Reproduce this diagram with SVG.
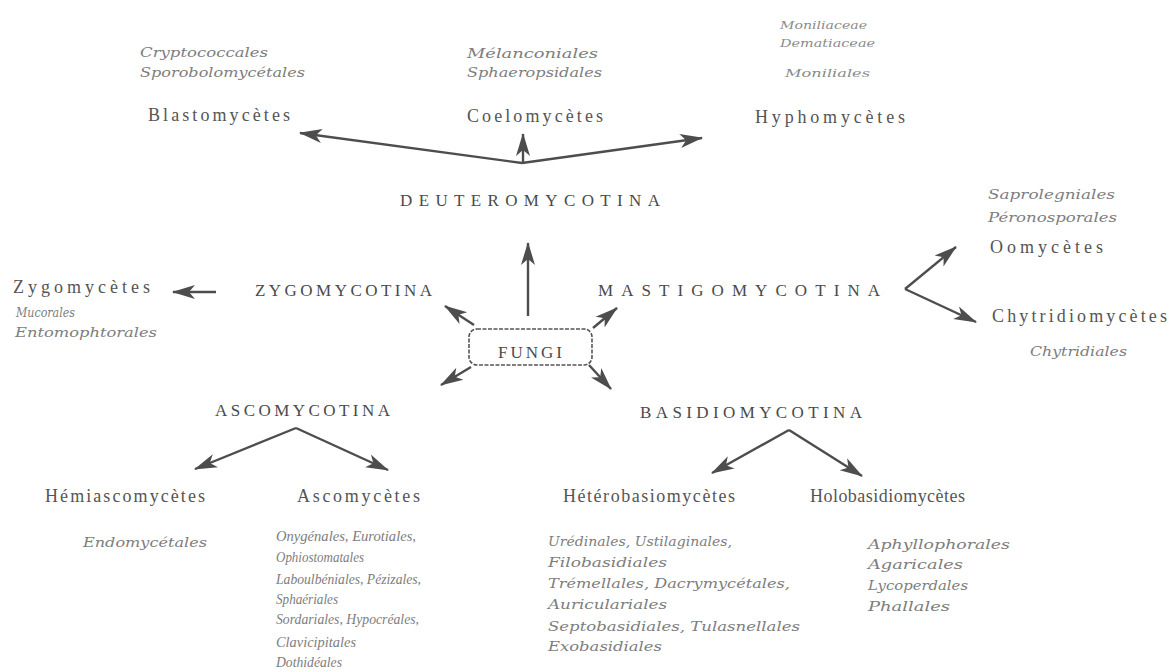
<svg xmlns="http://www.w3.org/2000/svg" width="1175" height="672" viewBox="0 0 1175 672">
<style>
text{font-family:"Liberation Serif","DejaVu Serif",serif;}
.h{font-size:18px;fill:#555;}
.c{font-size:17px;fill:#4a4a4a;}
.i{font-size:13px;font-style:italic;fill:#7d7d7d;font-family:"DejaVu Serif","Liberation Serif",serif;}
.a{font-size:14px;font-style:italic;fill:#7d7d7d;}
.s{font-size:11px;font-style:italic;fill:#8a8a8a;font-family:"DejaVu Serif","Liberation Serif",serif;}
.ln{stroke:#4d4d4d;stroke-width:2.4;fill:none;marker-end:url(#ah);}
</style>
<defs>
<marker id="ah" markerUnits="userSpaceOnUse" markerWidth="26" markerHeight="16" refX="22" refY="8" orient="auto">
<path d="M0,1 L23,8 L0,15 L6,8 z" fill="#4d4d4d"/>
</marker>
</defs>
<rect width="1175" height="672" fill="#ffffff"/>
<g id="connectors">
<line class="ln" x1="522" y1="163" x2="300" y2="133"/>
<line class="ln" x1="522" y1="163" x2="702" y2="138"/>
<line class="ln" x1="523" y1="163" x2="523" y2="134"/>
<line class="ln" x1="528" y1="316" x2="528" y2="243"/>
<line class="ln" x1="474" y1="325" x2="445" y2="306"/>
<line class="ln" x1="593" y1="328" x2="617" y2="308"/>
<line class="ln" x1="471" y1="367" x2="441" y2="385"/>
<line class="ln" x1="589" y1="365" x2="611" y2="389"/>
<line class="ln" x1="216" y1="292" x2="173" y2="292"/>
<line class="ln" x1="905" y1="289" x2="956" y2="247"/>
<line class="ln" x1="905" y1="289" x2="976" y2="322"/>
<line class="ln" x1="296" y1="428" x2="195" y2="469"/>
<line class="ln" x1="296" y1="428" x2="388" y2="470"/>
<line class="ln" x1="789" y1="430" x2="712" y2="473"/>
<line class="ln" x1="789" y1="430" x2="862" y2="476"/>
</g>
<g id="fungi">
<rect x="469" y="329" width="123" height="36" rx="8" fill="none" stroke="#555" stroke-width="1.6" stroke-dasharray="4,1.5"/>
<text class="c" x="530" y="358" text-anchor="middle" textLength="64" lengthAdjust="spacing" font-size="16">FUNGI</text>
</g>
<g id="deuteromycotina"><text class="c" x="400" y="206" textLength="260" lengthAdjust="spacing">DEUTEROMYCOTINA</text></g>
<g id="zygomycotina"><text class="c" x="255" y="296" textLength="177" lengthAdjust="spacing">ZYGOMYCOTINA</text></g>
<g id="mastigomycotina"><text class="c" x="598" y="296" textLength="282" lengthAdjust="spacing">MASTIGOMYCOTINA</text></g>
<g id="ascomycotina"><text class="c" x="215" y="416" textLength="175" lengthAdjust="spacing">ASCOMYCOTINA</text></g>
<g id="basidiomycotina"><text class="c" x="640" y="418" textLength="222" lengthAdjust="spacing">BASIDIOMYCOTINA</text></g>
<g id="blastomycetes">
<text class="i" x="140" y="57" textLength="128" lengthAdjust="spacingAndGlyphs">Cryptococcales</text>
<text class="i" x="140" y="77" textLength="165" lengthAdjust="spacingAndGlyphs">Sporobolomycétales</text>
<text class="h" x="148" y="121" textLength="142" lengthAdjust="spacing">Blastomycètes</text>
</g>
<g id="coelomycetes">
<text class="i" x="467" y="58" textLength="131" lengthAdjust="spacingAndGlyphs">Mélanconiales</text>
<text class="i" x="467" y="77" textLength="135" lengthAdjust="spacingAndGlyphs">Sphaeropsidales</text>
<text class="h" x="467" y="122" textLength="136" lengthAdjust="spacing">Coelomycètes</text>
</g>
<g id="hyphomycetes">
<text class="s" x="780" y="29" textLength="87" lengthAdjust="spacingAndGlyphs">Moniliaceae</text>
<text class="s" x="780" y="47" textLength="95" lengthAdjust="spacingAndGlyphs">Dematiaceae</text>
<text class="s" x="785" y="77" font-size="12" textLength="85" lengthAdjust="spacingAndGlyphs">Moniliales</text>
<text class="h" x="755" y="123" textLength="150" lengthAdjust="spacing">Hyphomycètes</text>
</g>
<g id="zygomycetes">
<text class="h" x="13" y="293" textLength="137" lengthAdjust="spacing">Zygomycètes</text>
<text class="i" x="16" y="317" textLength="59" lengthAdjust="spacingAndGlyphs">Mucorales</text>
<text class="i" x="15" y="337" textLength="142" lengthAdjust="spacingAndGlyphs">Entomophtorales</text>
</g>
<g id="oomycetes">
<text class="i" x="988" y="199" textLength="127" lengthAdjust="spacingAndGlyphs">Saprolegniales</text>
<text class="i" x="988" y="222" textLength="129" lengthAdjust="spacingAndGlyphs">Péronosporales</text>
<text class="h" x="990" y="253" textLength="113" lengthAdjust="spacing">Oomycètes</text>
</g>
<g id="chytridiomycetes">
<text class="h" x="992" y="322" textLength="175" lengthAdjust="spacing">Chytridiomycètes</text>
<text class="i" x="1030" y="356" textLength="97" lengthAdjust="spacingAndGlyphs">Chytridiales</text>
</g>
<g id="hemiascomycetes">
<text class="h" x="45" y="502" textLength="160" lengthAdjust="spacing">Hémiascomycètes</text>
<text class="i" x="83" y="547" textLength="124" lengthAdjust="spacingAndGlyphs">Endomycétales</text>
</g>
<g id="ascomycetes">
<text class="h" x="297" y="502" textLength="123" lengthAdjust="spacing">Ascomycètes</text>
<text class="a" x="276" y="541" textLength="140" lengthAdjust="spacingAndGlyphs">Onygénales, Eurotiales,</text>
<text class="a" x="276" y="562" textLength="88" lengthAdjust="spacingAndGlyphs">Ophiostomatales</text>
<text class="a" x="276" y="584" textLength="145" lengthAdjust="spacingAndGlyphs">Laboulbéniales, Pézizales,</text>
<text class="a" x="276" y="604" textLength="62" lengthAdjust="spacingAndGlyphs">Sphaériales</text>
<text class="a" x="276" y="624" textLength="143" lengthAdjust="spacingAndGlyphs">Sordariales, Hypocréales,</text>
<text class="a" x="276" y="647" textLength="80" lengthAdjust="spacingAndGlyphs">Clavicipitales</text>
<text class="a" x="276" y="667" textLength="66" lengthAdjust="spacingAndGlyphs">Dothidéales</text>
</g>
<g id="heterobasidiomycetes">
<text class="h" x="563" y="502" textLength="172" lengthAdjust="spacing">Hétérobasiomycètes</text>
<text class="i" x="548" y="546" textLength="184" lengthAdjust="spacingAndGlyphs">Urédinales, Ustilaginales,</text>
<text class="i" x="548" y="567" textLength="119" lengthAdjust="spacingAndGlyphs">Filobasidiales</text>
<text class="i" x="548" y="588" textLength="242" lengthAdjust="spacingAndGlyphs">Trémellales, Dacrymycétales,</text>
<text class="i" x="548" y="609" textLength="119" lengthAdjust="spacingAndGlyphs">Auriculariales</text>
<text class="i" x="548" y="631" textLength="252" lengthAdjust="spacingAndGlyphs">Septobasidiales, Tulasnellales</text>
<text class="i" x="548" y="651" textLength="114" lengthAdjust="spacingAndGlyphs">Exobasidiales</text>
</g>
<g id="holobasidiomycetes">
<text class="h" x="810" y="502" textLength="155" lengthAdjust="spacing">Holobasidiomycètes</text>
<text class="i" x="868" y="549" textLength="142" lengthAdjust="spacingAndGlyphs">Aphyllophorales</text>
<text class="i" x="868" y="569" textLength="95" lengthAdjust="spacingAndGlyphs">Agaricales</text>
<text class="i" x="868" y="590" textLength="100" lengthAdjust="spacingAndGlyphs">Lycoperdales</text>
<text class="i" x="868" y="611" textLength="82" lengthAdjust="spacingAndGlyphs">Phallales</text>
</g>
</svg>
